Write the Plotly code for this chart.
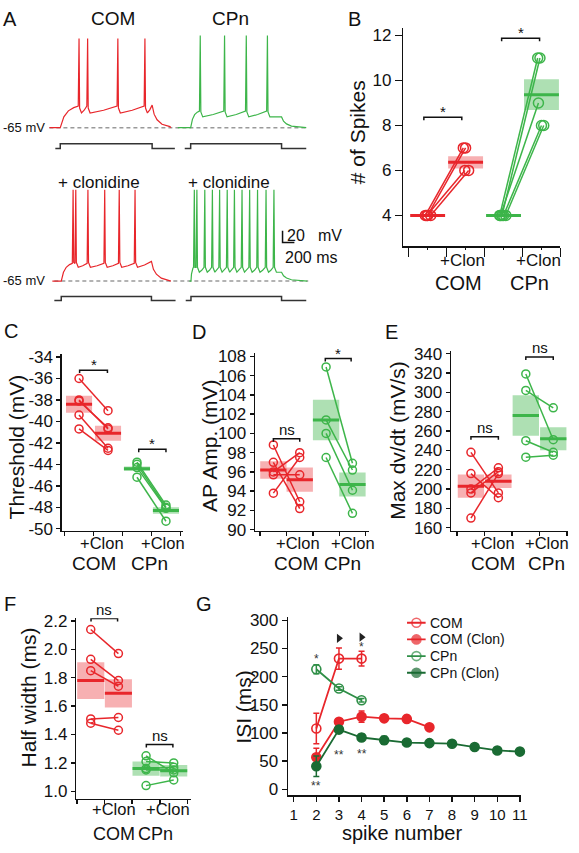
import plotly.graph_objects as go

W, H = 579, 853
FONT = "Liberation Sans, Arial, Helvetica, sans-serif"

# ======================= DATA =======================
# ---- Panel A: example sweeps (spike times in ms from sweep start) ----
A_COM_CTRL_SPIKES = [300, 387, 693, 967]
A_CPN_CTRL_SPIKES = [227, 473, 693, 907]
A_COM_CLON_SPIKES = [210, 237, 360, 530, 677, 837]
A_CPN_CLON_SPIKES = [50, 76, 156, 233, 306, 383, 456, 533, 610, 690, 776, 856]
# current step: [sweep start, step on, step off, sweep end] (ms)
A_COM_CTRL_STEP = [60, 110, 1040, 1270]
A_CPN_CTRL_STEP = [70, 130, 1050, 1300]
A_COM_CLON_STEP = [20, 90, 1003, 1247]
A_CPN_CLON_STEP = [-37, 16, 933, 1183]
# sweep length (ms)
A_COM_CTRL_LEN = 1230
A_CPN_CTRL_LEN = 1300
A_COM_CLON_LEN = 1200
A_CPN_CLON_LEN = 1193
# voltage levels (mV): spike peak, pre-spike, AHP trough, level at step end
A_COM_CTRL_MV = [26, -43, -50, -42]
A_CPN_CTRL_MV = [29, -48, -54, -54]
A_COM_CLON_MV = [28, -47, -51, -45]
A_CPN_CLON_MV = [28, -51, -56, -56]
A_REST_MV = -65

# ---- Panel B: # of spikes ----
B_COM_CTRL = [4, 4, 4, 4]
B_COM_CLON = [7, 7, 6, 6]
B_CPN_CTRL = [4, 4, 4, 4, 4]
B_CPN_CLON = [11, 11, 9, 8, 8]
B_MEAN = [4.0, 6.36, 4.0, 9.37]
B_SEM = [0.0, 0.27, 0.0, 0.68]
B_SIG = ["*", "*"]
B_TICKS = [4, 6, 8, 10, 12]

# ---- Panel C: threshold (mV) ----
C_COM_CTRL = [-36.0, -38.0, -38.1, -39.4, -40.7]
C_COM_CLON = [-39.0, -40.7, -40.6, -42.5, -42.7]
C_CPN_CTRL = [-43.8, -44.0, -44.3, -45.2]
C_CPN_CLON = [-47.8, -48.0, -48.1, -49.3]
C_MEAN = [-38.4, -41.1, -44.4, -48.3]
C_SEM = [0.8, 0.7, 0.2, 0.3]
C_SIG = ["*", "*"]
C_TICKS = [-50, -48, -46, -44, -42, -40, -38, -36, -34]

# ---- Panel D: AP amplitude (mV) ----
D_COM_CTRL = [98.8, 97.0, 96.0, 95.7, 93.8]
D_COM_CLON = [92.9, 92.2, 98.0, 95.7, 97.5]
D_CPN_CTRL = [106.9, 101.4, 100.0, 97.5]
D_CPN_CLON = [96.9, 96.2, 94.1, 91.7]
D_MEAN = [96.2, 95.2, 101.4, 94.7]
D_SEM = [0.9, 1.25, 2.1, 1.25]
D_SIG = ["ns", "*"]
D_TICKS = [90, 92, 94, 96, 98, 100, 102, 104, 106, 108]

# ---- Panel E: max dV/dt (mV/s) ----
E_COM_CTRL = [238, 216, 200, 196, 170]
E_COM_CLON = [196, 191, 222, 218, 216]
E_CPN_CTRL = [319, 302, 250, 233]
E_CPN_CLON = [251, 284, 238, 235]
E_MEAN = [203, 208, 276, 252]
E_SEM = [12, 7, 21, 12]
E_SIG = ["ns", "ns"]
E_TICKS = [160, 180, 200, 220, 240, 260, 280, 300, 320, 340]

# ---- Panel F: half width (ms) ----
F_COM_CTRL = [2.14, 1.93, 1.85, 1.51, 1.48]
F_COM_CLON = [1.97, 1.78, 1.74, 1.52, 1.43]
F_CPN_CTRL = [1.25, 1.21, 1.16, 1.15, 1.04]
F_CPN_CLON = [1.13, 1.20, 1.17, 1.15, 1.08]
F_MEAN = [1.78, 1.69, 1.16, 1.145]
F_SEM = [0.13, 0.10, 0.05, 0.04]
F_SIG = ["ns", "ns"]
F_TICKS = [1.0, 1.2, 1.4, 1.6, 1.8, 2.0, 2.2]

# ---- Panel G: ISI vs spike number ----
G_NAMES = ["COM", "COM (Clon)", "CPn", "CPn (Clon)"]
G_COM_X = [2, 3, 4]
G_COM_Y = [108, 232, 232]
G_COM_E = [27, 19, 13]
G_COMC_X = [2, 3, 4, 5, 6, 7]
G_COMC_Y = [57, 120, 129, 126, 125, 110]
G_COMC_E = [16, 5, 10, 5, 6, 3]
G_CPN_X = [2, 3, 4]
G_CPN_Y = [213, 179, 158]
G_CPN_E = [8, 3, 3]
G_CPNC_X = [2, 3, 4, 5, 6, 7, 8, 9, 10, 11]
G_CPNC_Y = [41, 106, 92, 87, 83, 82, 81, 75, 69, 67]
G_CPNC_E = [18, 6, 6, 7, 5, 5, 5, 4, 3, 3]
G_TRI_X = [3, 4]
G_TRI_Y = [268, 270]
G_STAR_X = [2, 2, 3, 4, 4]
G_STAR_Y = [236, 12, 66, 68, 258]
G_STAR_T = ["*", "**", "**", "**", "*"]
G_XTICKS = [1, 2, 3, 4, 5, 6, 7, 8, 9, 10, 11]
G_YTICKS = [0, 50, 100, 150, 200, 250, 300]

# ======================= STYLE =======================
BLACK = "#111111"
RED = "#e8262b"
GREEN = "#3db54a"
G_CPN_COL = "#2f8f47"
G_CPNC_COL = "#1a6b33"
RED_FILL = "rgba(238,80,85,0.45)"
GREEN_FILL = "rgba(61,181,74,0.42)"
STIM_COL = "#333333"
DASH_COL = "#9a9a9a"
POS = [0.5, 1.5, 2.5, 3.5]          # COM, COM+Clon, CPn, CPn+Clon


def xdom(a, b):
    return [a / W, b / W]


def ydom(top, bot):
    return [1 - bot / H, 1 - top / H]


def names(n):
    s = "" if n == 1 else str(n)
    return "xaxis" + s, "yaxis" + s, "x" + s, "y" + s


fig = go.Figure()
layout = dict(width=W, height=H, autosize=False,
              margin=dict(l=0, r=0, t=0, b=0),
              paper_bgcolor="white", plot_bgcolor="rgba(0,0,0,0)",
              showlegend=False, font=dict(family=FONT, color=BLACK))
shapes, annots = [], []

AXBASE = dict(showline=True, linecolor=BLACK, linewidth=1.5, ticks="outside",
              tickwidth=1.5, tickcolor=BLACK, showgrid=False, zeroline=False,
              fixedrange=True, tickfont=dict(family=FONT, size=17, color=BLACK))


def text(x, y, s, size, xref="paper", yref="paper", xanchor="center",
         yanchor="middle", angle=0, color=BLACK, yshift=0, xshift=0):
    if xref == "paper":
        x = x / W
    if yref == "paper":
        y = 1 - y / H
    annots.append(dict(x=x, y=y, xref=xref, yref=yref, text=s, showarrow=False,
                       xanchor=xanchor, yanchor=yanchor, textangle=angle,
                       yshift=yshift, xshift=xshift,
                       font=dict(family=FONT, size=size, color=color)))


# ======================= PANEL A =======================
def membrane(spikes, step, sweep_len, mv, rest=A_REST_MV):
    peak, pre, trough, endv = mv
    on, off = step[1], step[2]
    t, v = [0, on], [rest, rest]
    span = max(spikes[0] - 8 - on, 1)
    for f, lv in ((0.2, 0.5), (0.45, 0.78), (0.75, 0.93), (1.0, 1.0)):
        t.append(on + f * span)
        v.append(rest + lv * (pre - rest))
    for i, s in enumerate(spikes):
        t += [s, s + 6]
        v += [peak, trough + 5]
        last = i == len(spikes) - 1
        nxt = off if last else spikes[i + 1] - 8
        target = endv if last else pre
        if nxt - (s + 6) > 30:
            t += [s + 25, (s + 25 + nxt) / 2, nxt]
            v += [trough, trough + 0.4 * (target - trough), target]
        else:
            t.append(nxt)
            v.append(target)
    for dt, lv in ((20, 0.6), (50, 0.35), (100, 0.15), (180, 0.05)):
        if off + dt < sweep_len:
            t.append(off + dt)
            v.append(rest + lv * (endv - rest))
    t.append(sweep_len)
    v.append(rest)
    return t, v


A_ROWS = [  # axis index, y-domain px, y-range, step levels, baseline dashed start
    (7, (20, 150), (-92, 38), (-86.3, -81.3), 100),
    (8, (176, 306), (-91.7, 38.3), (-84.7, -80.7), 150),
]
A_XRANGE = (0, 2800)
A_XDOM = (40, 320)
for n, yd, yr, _, _ in A_ROWS:
    xa, ya, xr_, yr_ = names(n)
    layout[xa] = dict(domain=xdom(*A_XDOM), range=list(A_XRANGE), visible=False,
                      anchor=yr_, fixedrange=True)
    layout[ya] = dict(domain=ydom(*yd), range=list(yr), visible=False,
                      anchor=xr_, fixedrange=True)

A_SWEEPS = [  # row, offset(ms), spikes, step, length, mv, colour
    (0, 100, A_COM_CTRL_SPIKES, A_COM_CTRL_STEP, A_COM_CTRL_LEN, A_COM_CTRL_MV, RED),
    (0, 1400, A_CPN_CTRL_SPIKES, A_CPN_CTRL_STEP, A_CPN_CTRL_LEN, A_CPN_CTRL_MV, GREEN),
    (1, 130, A_COM_CLON_SPIKES, A_COM_CLON_STEP, A_COM_CLON_LEN, A_COM_CLON_MV, RED),
    (1, 1517, A_CPN_CLON_SPIKES, A_CPN_CLON_STEP, A_CPN_CLON_LEN, A_CPN_CLON_MV, GREEN),
]
for row, off, spk, step, ln, mv, col in A_SWEEPS:
    n, yd, yr, (lo, hi), dstart = A_ROWS[row]
    _, _, xr_, yr_ = names(n)
    t, v = membrane(spk, step, ln, mv)
    fig.add_trace(go.Scatter(x=[off + ti for ti in t], y=v, mode="lines",
                             line=dict(color=col, width=1.2), xaxis=xr_, yaxis=yr_,
                             hoverinfo="skip"))
    st = [step[0], step[1], step[1], step[2], step[2], step[3]]
    sv = [lo, lo, hi, hi, lo, lo]
    fig.add_trace(go.Scatter(x=[off + s for s in st], y=sv, mode="lines",
                             line=dict(color=STIM_COL, width=1.5), xaxis=xr_,
                             yaxis=yr_, hoverinfo="skip"))

for n, yd, yr, _, dstart in A_ROWS:
    _, _, xr_, yr_ = names(n)
    shapes.append(dict(type="line", xref=xr_, yref=yr_, x0=dstart, x1=2720,
                       y0=A_REST_MV, y1=A_REST_MV, layer="below",
                       line=dict(color=DASH_COL, width=1.5, dash="4px,3px")))
    text(48, 123 if n == 7 else 279, "-65 mV", 13, xanchor="right")

# scale bar (bottom row)
shapes.append(dict(type="path", xref="x8", yref="y8",
                   path="M 2460,-13.7 L 2460,-25.7 L 2580,-25.7",
                   line=dict(color=BLACK, width=1.5)))
text(288, 233, "20", 16, xanchor="left")
text(320, 233, "mV", 16, xanchor="left")
text(286, 255, "200 ms", 16, xanchor="left")
text(114, 12, "COM", 19)
text(233, 12, "CPn", 19)
text(100, 179, "+ clonidine", 17)
text(232, 179, "+ clonidine", 17)

# ======================= SCATTER PANELS =======================
PANELS = {
    "B": dict(n=1, xd=(408.3, 567.3), yd=(21.7, 244), xr=(-0.14, 4.0), yr=(2.62, 12.32)),
    "C": dict(n=2, xd=(62.7, 185), yd=(354, 534), xr=(-0.09, 4.08), yr=(-50.21, -33.75)),
    "D": dict(n=3, xd=(258.3, 373.3), yd=(353, 534), xr=(-0.19, 4.12), yr=(89.87, 108.31)),
    "E": dict(n=4, xd=(456.7, 575.3), yd=(351, 534), xr=(-0.22, 4.05), yr=(156.65, 342.3)),
    "F": dict(n=5, xd=(77.3, 193.2), yd=(623, 806.7), xr=(-0.02, 4.12), yr=(0.9488, 2.2187)),
    "G": dict(n=6, xd=(291.7, 527.4), yd=(622, 803.3), xr=(0.755, 11.05), yr=(-10.45, 305.2)),
}


def ppu(key):
    p = PANELS[key]
    return (p["yd"][1] - p["yd"][0]) / (p["yr"][1] - p["yr"][0])


def fmt_tick(v, dec):
    return f"{v:.{dec}f}"


def setup_axes(key, yticks, dec, xticklen=4, yticklen=4):
    p = PANELS[key]
    xa, ya, xr_, yr_ = names(p["n"])
    layout[xa] = dict(AXBASE, domain=xdom(*p["xd"]), range=list(p["xr"]), anchor=yr_,
                      tickmode="array", tickvals=[0, 1, 2, 3, 4], showticklabels=False,
                      ticklen=xticklen)
    layout[ya] = dict(AXBASE, domain=ydom(*p["yd"]), range=list(p["yr"]), anchor=xr_,
                      tickmode="array", tickvals=yticks,
                      ticktext=[fmt_tick(v, dec) for v in yticks], ticklen=yticklen)
    return xr_, yr_


def paired(key, groups, means, sems, sig, sig_y, sig_x, yticks, dec, hw=0.47,
           msize=8, jitter=None, xticklen=4, yticklen=4):
    xr_, yr_ = setup_axes(key, yticks, dec, xticklen, yticklen)
    k = ppu(key)
    cols = [RED, RED, GREEN, GREEN]
    fills = [RED_FILL, RED_FILL, GREEN_FILL, GREEN_FILL]
    for i in range(4):
        shapes.append(dict(type="rect", xref=xr_, yref=yr_, x0=POS[i] - hw,
                           x1=POS[i] + hw, y0=means[i] - sems[i], y1=means[i] + sems[i],
                           fillcolor=fills[i], line=dict(width=0), layer="below"))
        shapes.append(dict(type="line", xref=xr_, yref=yr_, x0=POS[i] - hw,
                           x1=POS[i] + hw, y0=means[i], y1=means[i],
                           line=dict(color=cols[i], width=3), layer="below"))
    for g, (ctrl, clon) in enumerate(groups):
        col = cols[2 * g]
        for c, (a, b) in enumerate(zip(ctrl, clon)):
            j = jitter[g][c] if jitter else 0.0
            fig.add_trace(go.Scatter(
                x=[POS[2 * g] + j, POS[2 * g + 1] + j], y=[a, b], mode="lines+markers",
                line=dict(color=col, width=1.5),
                marker=dict(symbol="circle-open", size=msize, color=col,
                            line=dict(width=1.5)),
                xaxis=xr_, yaxis=yr_, cliponaxis=False, hoverinfo="skip"))
    d = 3.0 / k
    for g in range(2):
        x0, x1 = sig_x[g]
        y = sig_y[g]
        shapes.append(dict(type="path", xref=xr_, yref=yr_,
                           path=f"M {x0},{y - d} L {x0},{y} L {x1},{y} L {x1},{y - d}",
                           line=dict(color=BLACK, width=1.5)))
        is_star = sig[g] == "*"
        text((x0 + x1) / 2, y, sig[g], 15, xref=xr_, yref=yr_,
             yanchor="bottom", yshift=-5 if is_star else -1)


# ---- B ----
B_JIT = [[-0.06, 0.0, -0.02, 0.08], [-0.10, -0.04, -0.08, 0.0, 0.06]]
paired("B", [(B_COM_CTRL, B_COM_CLON), (B_CPN_CTRL, B_CPN_CLON)], B_MEAN, B_SEM, B_SIG,
       [8.36, 11.88], [(0.4, 1.4), (2.45, 3.45)], B_TICKS, 0, hw=0.46, msize=10,
       jitter=B_JIT, xticklen=9, yticklen=7)
layout["xaxis"]["minor"] = dict(tickmode="array", tickvals=[0.5, 1.5, 2.5, 3.5],
                                ticks="outside", ticklen=2, tickwidth=1.5,
                                tickcolor=BLACK)
text(362, 128, "# of Spikes", 21, angle=-90)
text(468, 258.5, "+Clon", 17)
text(545, 258.5, "+Clon", 17)
text(464.5, 281.5, "COM", 20)
text(536, 281.5, "CPn", 20)

# ---- C ----
paired("C", [(C_COM_CTRL, C_COM_CLON), (C_CPN_CTRL, C_CPN_CLON)], C_MEAN, C_SEM, C_SIG,
       [-35.22, -42.6], [(0.52, 1.48), (2.56, 3.5)], C_TICKS, 0, hw=0.45)
text(17, 448, "Threshold (mV)", 21, angle=-90)
text(103, 546.5, "+Clon", 16.5)
text(165.5, 546.5, "+Clon", 16.5)
text(95.5, 567.5, "COM", 19)
text(151.5, 567.5, "CPn", 19)

# ---- D ----
paired("D", [(D_COM_CTRL, D_COM_CLON), (D_CPN_CTRL, D_CPN_CLON)], D_MEAN, D_SEM, D_SIG,
       [99.44, 107.77], [(0.5, 1.5), (2.47, 3.45)], D_TICKS, 0, hw=0.5)
text(212, 447, "AP Amp. (mV)", 21, angle=-90)
text(302, 546.5, "+Clon", 16.5)
text(357, 546.5, "+Clon", 16.5)
text(299.7, 567.5, "COM", 19)
text(347, 567.5, "CPn", 19)

# ---- E ----
paired("E", [(E_COM_CTRL, E_COM_CLON), (E_CPN_CTRL, E_CPN_CLON)], E_MEAN, E_SEM, E_SIG,
       [254.1, 336.5], [(0.5, 1.5), (2.5, 3.5)], E_TICKS, 0, hw=0.48)
text(403, 442, "Max dv/dt (mV/s)", 21, angle=-90)
text(499, 546.5, "+Clon", 16.5)
text(554, 546.5, "+Clon", 16.5)
text(499, 567.5, "COM", 19)
text(553, 567.5, "CPn", 19)

# ---- F ----
paired("F", [(F_COM_CTRL, F_COM_CLON), (F_CPN_CTRL, F_CPN_CLON)], F_MEAN, F_SEM, F_SIG,
       [2.217, 1.329], [(0.51, 1.47), (2.51, 3.47)], F_TICKS, 1, hw=0.49)
text(29, 704, "Half width (ms)", 21, angle=-90)
text(115, 817.5, "+Clon", 16.5)
text(170, 817.5, "+Clon", 16.5)
text(115, 843, "COM", 18)
text(157, 843, "CPn", 18)

# ======================= PANEL G =======================
pg = PANELS["G"]
xa, ya, gx, gy = names(pg["n"])
layout[xa] = dict(AXBASE, domain=xdom(*pg["xd"]), range=list(pg["xr"]), anchor=gy,
                  tickmode="array", tickvals=G_XTICKS, ticklen=5,
                  tickfont=dict(family=FONT, size=15, color=BLACK))
layout[ya] = dict(AXBASE, domain=ydom(*pg["yd"]), range=list(pg["yr"]), anchor=gx,
                  tickmode="array", tickvals=G_YTICKS,
                  ticktext=[str(v) for v in G_YTICKS], ticklen=5)

G_SERIES = [
    (G_COM_X, G_COM_Y, G_COM_E, RED, "circle-open"),
    (G_COMC_X, G_COMC_Y, G_COMC_E, RED, "circle"),
    (G_CPN_X, G_CPN_Y, G_CPN_E, G_CPN_COL, "circle-open"),
    (G_CPNC_X, G_CPNC_Y, G_CPNC_E, G_CPNC_COL, "circle"),
]
for (x, y, e, col, sym), nm in zip(G_SERIES, G_NAMES):
    fig.add_trace(go.Scatter(
        x=x, y=y, name=nm, mode="lines+markers",
        error_y=dict(type="data", array=e, visible=True, color=col, thickness=1.5, width=3),
        line=dict(color=col, width=1.8),
        marker=dict(symbol=sym, size=9, color=col, line=dict(width=1.6, color=col)),
        xaxis=gx, yaxis=gy, cliponaxis=False, hoverinfo="skip"))
fig.add_trace(go.Scatter(x=G_TRI_X, y=G_TRI_Y, mode="markers",
                         marker=dict(symbol="triangle-right", size=8, color="#222222"),
                         xaxis=gx, yaxis=gy, cliponaxis=False, hoverinfo="skip"))
for x, y, s in zip(G_STAR_X, G_STAR_Y, G_STAR_T):
    text(x, y, s, 12, xref=gx, yref=gy, color="#333333", yshift=-3)

text(247, 713, "ISI (ms)", 21, angle=-90)
text(407, 842, "spike number", 20)

# manual legend (compact rows like the original)
LEG_N = len(G_NAMES)
LEG_ROW = 17
layout["xaxis9"] = dict(domain=xdom(412, 431), range=[0, 1], visible=False,
                        anchor="y9", fixedrange=True)
layout["yaxis9"] = dict(domain=ydom(619, 619 + LEG_ROW * LEG_N),
                        range=[LEG_N - 0.5, -0.5], visible=False, anchor="x9",
                        fixedrange=True)
for i, ((_, _, _, col, sym), nm) in enumerate(zip(G_SERIES, G_NAMES)):
    fig.add_trace(go.Scatter(
        x=[0, 0.5, 1], y=[i, i, i], mode="lines+markers",
        line=dict(color=col, width=1.8),
        marker=dict(symbol=sym, size=[0, 9, 0], color=col, line=dict(width=1.6, color=col)),
        xaxis="x9", yaxis="y9", cliponaxis=False, hoverinfo="skip"))
    text(1, i, nm, 14, xref="x9", yref="y9", xanchor="left", xshift=2)

# panel letters
for s, x, y in (("A", 10, 12), ("B", 359, 12), ("C", 11, 330), ("D", 201, 331),
                ("E", 396, 331), ("F", 10, 608), ("G", 207, 608)):
    text(x, y, s, 20)

layout["shapes"] = shapes
layout["annotations"] = annots
fig.update_layout(**layout)
fig.write_html("out.html", config={"displayModeBar": False, "staticPlot": True},
               post_script="document.body.style.margin='0';document.body.style.overflow='hidden';")
